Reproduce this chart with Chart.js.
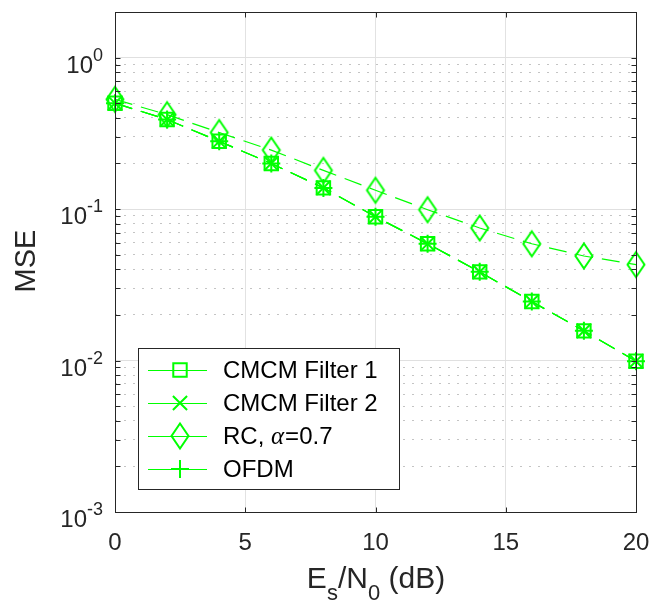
<!DOCTYPE html>
<html>
<head>
<meta charset="utf-8">
<script src="https://cdn.jsdelivr.net/npm/chart.js@4.4.0/dist/chart.umd.min.js"></script>
<style>
  html, body { margin: 0; padding: 0; background: #fff; }
  #wrap { width: 652px; height: 603px; }
</style>
</head>
<body>
<div id="wrap"><canvas id="mse" width="652" height="603"></canvas></div>
<script>
// ==== DATA ====
const snrDb   = [0, 2, 4, 6, 8, 10, 12, 14, 16, 18, 20];
const cmcmF1  = [0.50, 0.39, 0.28, 0.20, 0.138, 0.089, 0.059, 0.0385, 0.0245, 0.0157, 0.0099];
const cmcmF2  = [0.50, 0.39, 0.28, 0.20, 0.138, 0.089, 0.059, 0.0385, 0.0245, 0.0157, 0.0099];
const rcA07   = [0.53, 0.42, 0.32, 0.245, 0.18, 0.133, 0.099, 0.075, 0.059, 0.049, 0.043];
const ofdm    = [0.50, 0.39, 0.28, 0.20, 0.138, 0.089, 0.059, 0.0385, 0.0245, 0.0157, 0.0099];

const seriesNames = ['CMCM Filter 1', 'CMCM Filter 2', 'RC, \u03b1=0.7', 'OFDM'];
const xTicks = [0, 5, 10, 15, 20];
const yDecades = [0.001, 0.01, 0.1, 1];
const yDecadeExp = ['-3', '-2', '-1', '0'];
const yMinor = [0.002, 0.003, 0.004, 0.005, 0.006, 0.007, 0.008, 0.009,
                0.02, 0.03, 0.04, 0.05, 0.06, 0.07, 0.08, 0.09,
                0.2, 0.3, 0.4, 0.5, 0.6, 0.7, 0.8, 0.9, 2];

// ==== STYLE ====
const GREEN = '#00ff00';
const INK = '#262626';
const FONT = '"Liberation Sans", Arial, Helvetica, sans-serif';

function makeDiamond(w, h, lw) {
  const c = document.createElement('canvas');
  c.width = w + lw * 2 + 1; c.height = h + lw * 2 + 1;
  const g = c.getContext('2d');
  const cx = c.width / 2, cy = c.height / 2;
  g.strokeStyle = GREEN; g.lineWidth = lw; g.lineJoin = 'miter';
  g.beginPath();
  g.moveTo(cx, cy - h / 2); g.lineTo(cx + w / 2, cy);
  g.lineTo(cx, cy + h / 2); g.lineTo(cx - w / 2, cy);
  g.closePath(); g.stroke();
  return c;
}
const diamondImg = makeDiamond(17, 25, 2);

const markers = [
  { style: 'rect', r: 9.5 },
  { style: 'crossRot', r: 10 },
  { style: diamondImg, r: 10 },
  { style: 'cross', r: 9 }
];

function isDecade(v) {
  const l = Math.log10(v);
  return Math.abs(l - Math.round(l)) < 1e-6;
}

function drawMarker(ctx, m, x, y) {
  ctx.save();
  ctx.strokeStyle = GREEN; ctx.lineWidth = 2;
  ctx.beginPath();
  if (m.style === 'rect') {
    const s = Math.SQRT1_2 * m.r;
    ctx.rect(x - s, y - s, 2 * s, 2 * s);
  } else if (m.style === 'crossRot') {
    const s = Math.SQRT1_2 * m.r;
    ctx.moveTo(x - s, y - s); ctx.lineTo(x + s, y + s);
    ctx.moveTo(x - s, y + s); ctx.lineTo(x + s, y - s);
  } else if (m.style === 'cross') {
    ctx.moveTo(x, y - m.r); ctx.lineTo(x, y + m.r);
    ctx.moveTo(x - m.r, y); ctx.lineTo(x + m.r, y);
  } else {
    ctx.drawImage(m.style, x - m.style.width / 2, y - m.style.height / 2);
  }
  ctx.stroke();
  ctx.restore();
}

// axes box, inward ticks, tick labels, axis titles, legend
const decor = {
  id: 'decor',
  afterDraw(chart) {
    const { ctx, chartArea: a, scales: { x, y } } = chart;
    const L = Math.round(a.left) + 0.5, R = Math.round(a.right) + 0.5;
    const T = Math.round(a.top) + 0.5, B = Math.round(a.bottom) + 0.5;
    ctx.save();
    ctx.strokeStyle = INK; ctx.lineWidth = 1;
    ctx.strokeRect(L, T, R - L, B - T);

    // inward tick marks
    ctx.beginPath();
    xTicks.forEach(v => {
      const px = Math.round(x.getPixelForValue(v)) + 0.5;
      ctx.moveTo(px, B); ctx.lineTo(px, B - 5);
      ctx.moveTo(px, T); ctx.lineTo(px, T + 5);
    });
    yDecades.concat(yMinor).forEach(v => {
      const py = Math.round(y.getPixelForValue(v)) + 0.5;
      if (py < T || py > B) return;
      ctx.moveTo(L, py); ctx.lineTo(L + 5, py);
      ctx.moveTo(R, py); ctx.lineTo(R - 5, py);
    });
    ctx.stroke();

    // x tick labels
    ctx.fillStyle = INK;
    ctx.font = '24px ' + FONT;
    ctx.textAlign = 'center'; ctx.textBaseline = 'middle';
    xTicks.forEach(v => ctx.fillText(String(v), x.getPixelForValue(v), 543));

    // y tick labels 10^n
    ctx.textBaseline = 'alphabetic'; ctx.textAlign = 'right';
    yDecades.forEach((v, i) => {
      const py = y.getPixelForValue(v);
      ctx.font = '18px ' + FONT;
      const w = ctx.measureText(yDecadeExp[i]).width;
      ctx.fillText(yDecadeExp[i], 103, py + 3);
      ctx.font = '24px ' + FONT;
      ctx.fillText('10', 103 - w, py + 15);
    });

    // y title
    ctx.save();
    ctx.translate(27, 261);
    ctx.rotate(-Math.PI / 2);
    ctx.font = '29px ' + FONT;
    ctx.textAlign = 'center'; ctx.textBaseline = 'middle';
    ctx.fillText('MSE', 0, 0);
    ctx.restore();

    // x title E_s/N_0 (dB)
    const parts = [['E', 30, 0], ['s', 22, 12], ['/N', 30, 0], ['0', 22, 12], [' (dB)', 30, 0]];
    let total = 0;
    parts.forEach(p => { ctx.font = p[1] + 'px ' + FONT; total += ctx.measureText(p[0]).width; });
    let cx = 376 - total / 2;
    ctx.textAlign = 'left';
    parts.forEach(p => {
      ctx.font = p[1] + 'px ' + FONT;
      ctx.fillText(p[0], cx, 588 + p[2]);
      cx += ctx.measureText(p[0]).width;
    });

    // legend
    const box = { l: 138.5, t: 348.5, r: 399.5, b: 489.5 };
    ctx.fillStyle = '#fff';
    ctx.fillRect(box.l, box.t, box.r - box.l, box.b - box.t);
    ctx.strokeStyle = INK; ctx.lineWidth = 1;
    ctx.strokeRect(box.l, box.t, box.r - box.l, box.b - box.t);
    seriesNames.forEach((name, i) => {
      const ry = 370 + i * 33;
      ctx.strokeStyle = GREEN; ctx.lineWidth = 1.2;
      ctx.beginPath(); ctx.moveTo(148, ry + 0.5); ctx.lineTo(207, ry + 0.5); ctx.stroke();
      drawMarker(ctx, markers[i], 180, ry);
      ctx.fillStyle = '#000';
      ctx.textBaseline = 'middle'; ctx.textAlign = 'left';
      let tx = 223;
      name.split(/(\u03b1)/).forEach(seg => {
        if (!seg) return;
        ctx.font = seg === '\u03b1' ? 'italic 25px "Liberation Serif", "DejaVu Serif", serif' : '24px ' + FONT;
        ctx.fillText(seg, tx, ry + 1);
        tx += ctx.measureText(seg).width + (seg === '\u03b1' ? 1 : 0);
      });
    });
    ctx.restore();
  }
};

const seriesData = [cmcmF1, cmcmF2, rcA07, ofdm];
const datasets = seriesData.map((vals, i) => ({
  label: seriesNames[i],
  data: snrDb.map((s, k) => ({ x: s, y: vals[k] })),
  borderColor: GREEN,
  borderWidth: 1.2,
  borderDash: [18, 9],
  backgroundColor: 'transparent',
  pointStyle: markers[i].style,
  pointRadius: markers[i].r,
  pointBorderColor: GREEN,
  pointBackgroundColor: 'transparent',
  pointBorderWidth: 2,
  clip: false,
  tension: 0
}));

new Chart(document.getElementById('mse'), {
  type: 'line',
  data: { datasets },
  options: {
    responsive: false,
    animation: false,
    devicePixelRatio: 1,
    layout: { padding: { left: 115, right: 16, top: 12, bottom: 91 } },
    plugins: { legend: { display: false }, tooltip: { enabled: false } },
    scales: {
      x: {
        type: 'linear', min: 0, max: 20,
        afterBuildTicks: ax => { ax.ticks = xTicks.map(v => ({ value: v })); },
        ticks: { display: false },
        grid: { color: '#e2e2e2', lineWidth: 1, drawTicks: false },
        border: { display: false }
      },
      y: {
        type: 'logarithmic', min: 0.001, max: 2,
        afterBuildTicks: ax => {
          ax.ticks = yDecades.concat(yMinor).sort((a, b) => a - b).map(v => ({ value: v }));
        },
        ticks: { display: false },
        grid: {
          color: c => (c.tick && isDecade(c.tick.value)) ? '#e0e0e0' : '#c4c4c4',
          lineWidth: 1, drawTicks: false
        },
        border: {
          display: false,
          dash: c => (c.tick && isDecade(c.tick.value)) ? [] : [2, 7]
        }
      }
    }
  },
  plugins: [decor]
});
</script>
</body>
</html>
